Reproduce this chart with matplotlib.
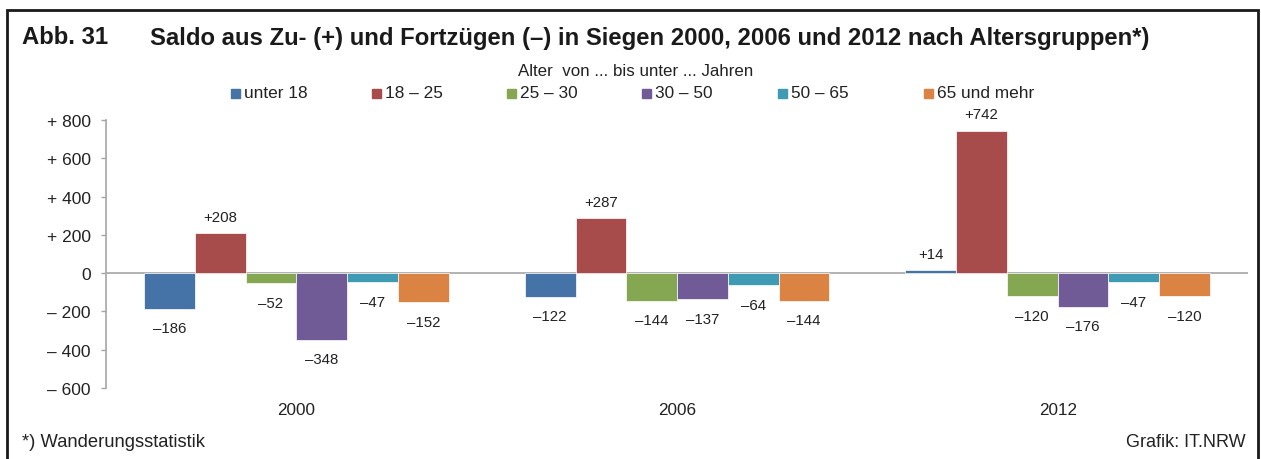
import numpy as np
import matplotlib.pyplot as plt
from matplotlib.patches import Rectangle

plt.rcParams['font.family'] = ['Liberation Sans', 'DejaVu Sans']

# data
years = ['2000', '2006', '2012']
groups = ['unter 18', '18 – 25', '25 – 30', '30 – 50', '50 – 65', '65 und mehr']
saldo = [
    [-186, -122, 14],     # unter 18
    [208, 287, 742],      # 18 - 25
    [-52, -144, -120],    # 25 - 30
    [-348, -137, -176],   # 30 - 50
    [-47, -64, -47],      # 50 - 65
    [-152, -144, -120],   # 65 und mehr
]
colors = ['#4573A7', '#A84B4B', '#86A752', '#715B96', '#3F9BB4', '#DB8343']
yticks = [-600, -400, -200, 0, 200, 400, 600, 800]


def fmt_tick(v):
    if v > 0:
        return '+ %d' % v
    if v < 0:
        return '\u2013 %d' % -v
    return '0'


def fmt_val(v):
    return ('+%d' % v) if v > 0 else ('\u2013%d' % -v)


fig = plt.figure(figsize=(12.61, 4.60), dpi=100)
ax = fig.add_axes([0.0841, 0.1543, 0.9897 - 0.0841, 0.5826])

n = len(groups)
bw = 0.8 / n
x = np.arange(len(years))
for i, (g, vals, c) in enumerate(zip(groups, saldo, colors)):
    pos = x - 0.4 + bw * (i + 0.5)
    ax.bar(pos, vals, width=bw, color=c, edgecolor='white', linewidth=0.5, zorder=2)
    for p, v in zip(pos, vals):
        if v > 0:
            ax.annotate(fmt_val(v), (p, v), xytext=(0, 7), textcoords='offset points',
                        ha='center', va='bottom', fontsize=10.8, color='#222222')
        else:
            ax.annotate(fmt_val(v), (p, v), xytext=(0, -9), textcoords='offset points',
                        ha='center', va='top', fontsize=10.8, color='#222222')

ax.axhline(0, color='#A6A6A6', linewidth=1.2, zorder=1)
ax.set_xlim(-0.5, len(years) - 0.5)
ax.set_ylim(-600, 800)
ax.set_yticks(yticks)
ax.set_yticklabels([fmt_tick(v) for v in yticks], fontsize=12.5, color='#222222')
ax.set_xticks(x)
ax.set_xticklabels(years, fontsize=12.3, color='#222222')
ax.tick_params(axis='x', length=0, pad=10)
ax.tick_params(axis='y', length=3.5, color='#A6A6A6', width=1, pad=7.5)
for s in ['top', 'right', 'bottom']:
    ax.spines[s].set_visible(False)
ax.spines['left'].set_color('#A6A6A6')
ax.spines['left'].set_linewidth(1.2)

# frame
fig.patches.append(Rectangle((7 / 1261, -0.05), (1258 - 7) / 1261, 1.05 - 11 / 460,
                             transform=fig.transFigure, fill=False,
                             edgecolor='#1a1a1a', linewidth=2))

# titles
fig.text(22 / 1261, 1 - 38 / 460, 'Abb. 31', fontsize=17.2, fontweight='bold',
         color='#1a1a1a', va='center', ha='left')
fig.text(150 / 1261, 1 - 38 / 460,
         'Saldo aus Zu- (+) und Fortzügen (\u2013) in Siegen 2000, 2006 und 2012 nach Altersgruppen*)',
         fontsize=17.2, fontweight='bold', color='#1a1a1a', va='center', ha='left')
fig.text(636 / 1261, 1 - 71 / 460, 'Alter  von ... bis unter ... Jahren', fontsize=12.2,
         color='#222222', ha='center', va='center')

# legend
leg_x = [231, 372, 507, 642, 778, 924]
for lx, g, c in zip(leg_x, groups, colors):
    fig.patches.append(Rectangle((lx / 1261, 1 - 99 / 460), 9 / 1261, 9 / 460,
                                 transform=fig.transFigure, color=c))
    fig.text((lx + 13) / 1261, 1 - 94 / 460, g, fontsize=12.4, color='#222222',
             ha='left', va='center')

fig.text(22 / 1261, 1 - 443 / 460, '*) Wanderungsstatistik', fontsize=13.2,
         color='#222222', ha='left', va='center')
fig.text(1246 / 1261, 1 - 443 / 460, 'Grafik: IT.NRW', fontsize=13,
         color='#222222', ha='right', va='center')

fig.savefig('out.png', dpi=100)
